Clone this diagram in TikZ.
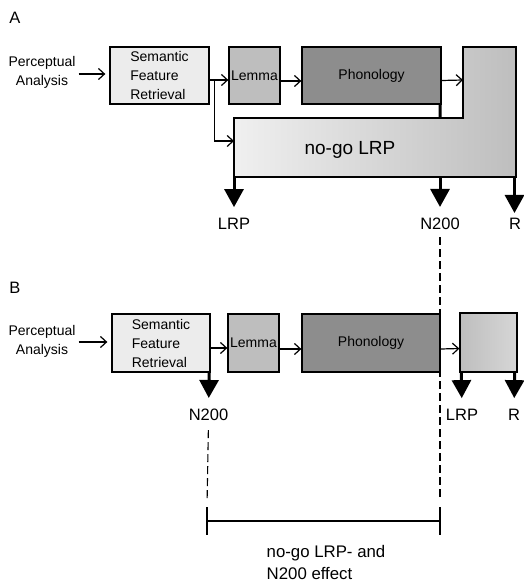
\documentclass[tikz,border=0pt]{standalone}
\usepackage{fontspec}
\setmainfont{Liberation Sans}
\usetikzlibrary{arrows.meta}
\definecolor{sfrgray}{HTML}{ECECEC}
\definecolor{lemgray}{HTML}{BEBEBE}
\definecolor{phogray}{HTML}{8D8D8D}
\begin{document}
\begin{tikzpicture}[x=1pt,y=-1pt,
  box/.style={draw,line width=1.3pt,inner sep=0pt,align=left,font=\fontsize{14}{19}\selectfont},
  flow/.style={line width=1.2pt,-{Straight Barb[length=6pt,width=11pt]}},
  bigarrow/.style={line width=3pt,-{Triangle[length=18pt,width=19pt]},shorten >=11pt},
  lab/.style={inner sep=0pt,font=\fontsize{16.5}{19}\selectfont},
  txt/.style={inner sep=0pt,align=center,font=\fontsize{14}{19}\selectfont},
  cut/.style={line width=1.1pt,dash pattern=on 8pt off 4pt}]
\useasboundingbox (0,0) rectangle (523,585);
\node[lab] (pA) at (15,18) {A};
\node[lab] (pB) at (15,288) {B};
% A
\node[lab] (lrpA) at (234,224) {LRP};
\node[lab] (n2A) at (440,224) {N200};
\node[lab] (rA) at (515,224) {R};
\node[lab] (n2B) at (208.5,415) {N200};
\node[lab] (lrpB) at (462,415) {LRP};
\node[lab] (rB) at (514,415) {R};
\coordinate (effL) at (207,507);
\coordinate (effR) at (440,507);
\draw[cut,shorten <=7pt,shorten >=6pt] (n2A.south) -- (effR);
\draw[cut,shorten <=9pt,shorten >=5pt] (n2B.south) -- (effL);
\node[txt] (paA) at (42,72) {Perceptual\\Analysis};
\node[box,fill=sfrgray,minimum width=99,minimum height=57] (sfrA) at (159.5,75.5) {Semantic\\Feature\\Retrieval};
\node[box,fill=lemgray,minimum width=51,minimum height=57] (lemA) at (254.5,75.5) {Lemma};
\node[box,fill=phogray,minimum width=139,minimum height=57] (phoA) at (371.5,75.5) {Phonology};
\shade[left color=white!94!black,right color=lemgray,draw,line width=1.3pt]
  (463,47) -- (516,47) -- (516,177) -- (234,177) -- (234,118) -- (463,118) -- cycle;
\node[inner sep=0pt,font=\fontsize{19}{22}\selectfont] (nogo) at (350,150) {no-go LRP};
\coordinate (nogoin) at (234,141);
\coordinate (rin) at (463,80);
\draw[line width=3pt] ([xshift=-1.5pt]phoA.south east) -- (440,118);
\draw[flow,shorten <=3pt,shorten >=4pt] (paA.east |- 0,74) -- (sfrA.west |- 0,74);
\draw[flow] ([yshift=-4.5pt]sfrA.east) -- ([yshift=-4.5pt]lemA.west);
\draw[flow] ([yshift=-4.5pt]sfrA.east) -- ++(5,0) |- (nogoin);
\draw[flow] ([yshift=-5.5pt]lemA.west -| lemA.east) -- ([yshift=-5.5pt]phoA.west);
\draw[flow] ([yshift=-5pt]phoA.east) -- (rin);
\draw[bigarrow] (234,177) -- (lrpA);
\draw[bigarrow] (440,177) -- (n2A);
\draw[bigarrow] (514.5,177) -- (514.5,224);
% B
\node[txt] (paB) at (42,341) {Perceptual\\Analysis};
\node[box,fill=sfrgray,minimum width=98,minimum height=58] (sfrB) at (161,343) {Semantic\\Feature\\Retrieval};
\node[box,fill=lemgray,minimum width=51,minimum height=58] (lemB) at (253.5,343) {Lemma};
\node[box,fill=phogray,minimum width=138,minimum height=58] (phoB) at (371,343) {Phonology};
\node[box,left color=lemgray,middle color=white!95!black,right color=white!84!black,minimum width=57,minimum height=59] (rbB) at (488.5,342.5) {};
\draw[flow,shorten <=3pt,shorten >=4pt] (paB.east |- 0,342) -- (sfrB.west |- 0,342);
\draw[flow] ([yshift=-5pt]sfrB.east) -- ([yshift=-5pt]lemB.west);
\draw[flow] ([yshift=-6pt]lemB.east) -- ([yshift=-6pt]phoB.west);
\draw[flow] ([yshift=-6pt]phoB.east) -- ([yshift=-6pt]rbB.west);
\draw[bigarrow] ([xshift=-1.5pt]sfrB.south east) -- (n2B);
\draw[bigarrow] ([xshift=2pt]rbB.south west) -- (lrpB);
\draw[bigarrow] ([xshift=-3pt]rbB.south east) -- (rB);
\draw[line width=1.3pt] (effL) -- ++(0,28) (effR) -- ++(0,28)
  ([yshift=-14pt]effL) -- ([yshift=-14pt]effR);
\node[inner sep=0pt,align=left,font=\fontsize{16.8}{22}\selectfont] (eff) at (326,562) {no-go LRP- and\\N200 effect};
\end{tikzpicture}
\end{document}
